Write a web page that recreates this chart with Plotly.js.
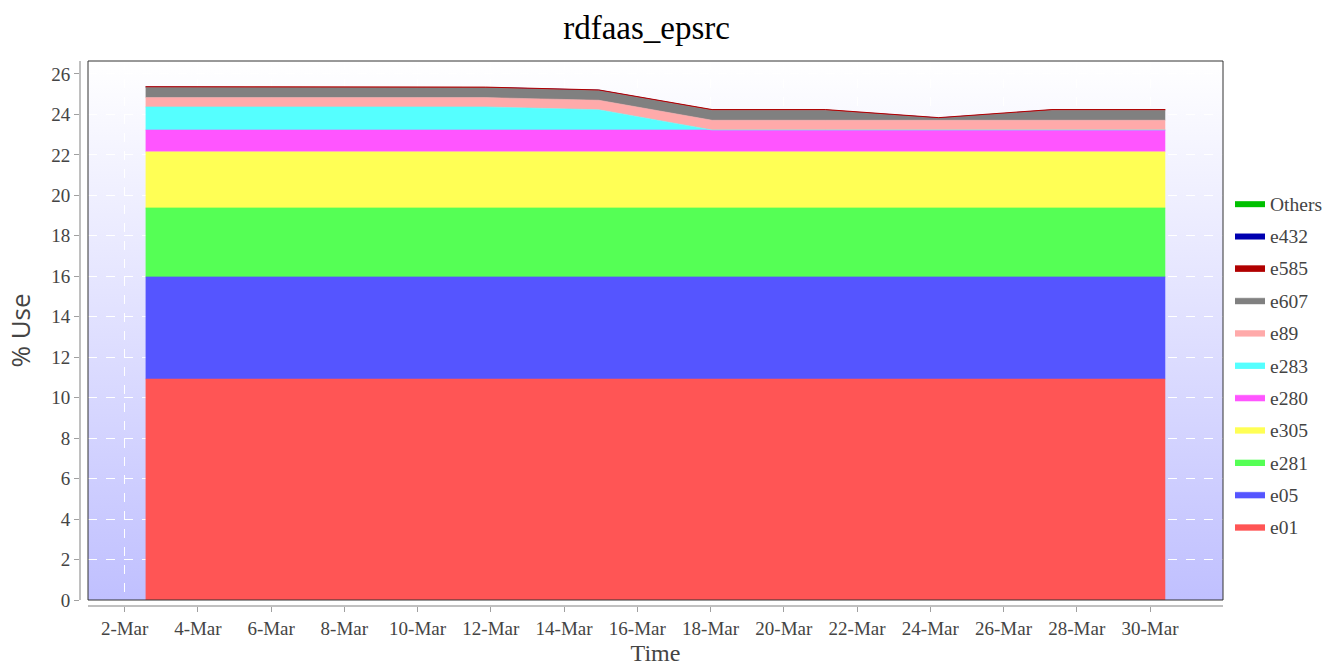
<!DOCTYPE html>
<html>
<head>
<meta charset="utf-8">
<script src="https://cdn.plot.ly/plotly-3.0.1.min.js"></script>
<style>html,body{margin:0;padding:0;background:#fff;}#chart{width:1325px;height:666px;}</style>
</head>
<body>
<div id="chart"></div>
<script>
// ---- data ----
const dates = ['2015-03-02 13:45','2015-03-05 16:00','2015-03-08 18:15','2015-03-11 20:30','2015-03-14 22:45',
               '2015-03-18 01:00','2015-03-21 03:15','2015-03-24 05:30','2015-03-27 07:45','2015-03-30 10:00'];
const seriesNames = ['e01','e05','e281','e305','e280','e283','e89','e607','e585','e432','Others'];
const e01    = [10.92,10.92,10.92,10.92,10.92,10.92,10.92,10.92,10.92,10.92];
const e05    = [5.05,5.05,5.05,5.05,5.05,5.05,5.05,5.05,5.05,5.05];
const e281   = [3.41,3.41,3.41,3.41,3.41,3.41,3.41,3.41,3.41,3.41];
const e305   = [2.77,2.77,2.77,2.77,2.77,2.77,2.77,2.77,2.77,2.77];
const e280   = [1.08,1.08,1.08,1.08,1.08,1.08,1.08,1.08,1.08,1.08];
const e283   = [1.14,1.14,1.14,1.14,1.00,0,0,0,0,0];
const e89    = [0.46,0.46,0.46,0.46,0.47,0.48,0.48,0.47,0.48,0.48];
const e607   = [0.51,0.51,0.51,0.49,0.48,0.50,0.50,0.11,0.50,0.50];
const e585   = [0.03,0.03,0.03,0.03,0.03,0.03,0.03,0.03,0.03,0.03];
const e432   = [0.005,0.005,0.005,0.005,0.005,0.005,0.005,0.005,0.005,0.005];
const others = [0,0,0,0,0,0,0,0,0,0];
const seriesValues = [e01,e05,e281,e305,e280,e283,e89,e607,e585,e432,others];
const seriesColors = ['#ff5555','#5555ff','#55ff55','#ffff55','#ff55ff','#55ffff','#ffaaaa','#808080','#b00000','#0000b0','#00c000'];

// ---- chart ----
const W = 1325, H = 666;
const L = 80, R = 102, T = 61, B = 60;
const pw = W - L - R, ph = H - T - B;

const traces = seriesNames.map((n, i) => ({
  type: 'scatter', mode: 'lines', name: n, x: dates, y: seriesValues[i],
  stackgroup: 'one', fillcolor: seriesColors[i],
  line: {color: seriesColors[i], width: (n === 'e585') ? 1 : (i > 8 ? 0 : 0.6), shape: 'linear'},
  legendgroup: n, legendrank: 100 - i, hoverinfo: 'x+y+name'
}));

const svgBg = '<svg xmlns="http://www.w3.org/2000/svg" width="100" height="100" preserveAspectRatio="none">' +
  '<defs><linearGradient id="g" x1="0" y1="0" x2="0" y2="1"><stop offset="0" stop-color="#ffffff"/>' +
  '<stop offset="1" stop-color="#c0c0ff"/></linearGradient></defs><rect width="100" height="100" fill="url(#g)"/></svg>';
const bgSrc = 'data:image/svg+xml;base64,' + btoa(svgBg);

const serif = 'Liberation Serif, Times New Roman, serif';
const layout = {
  width: W, height: H,
  margin: {l: L, r: R, t: T, b: B, pad: 0, autoexpand: false},
  paper_bgcolor: '#ffffff', plot_bgcolor: 'rgba(0,0,0,0)',
  title: {text: 'rdfaas_epsrc', font: {family: serif, size: 33, color: '#000'},
          x: 0.488, xanchor: 'center', y: 1 - 27/H, yanchor: 'middle', yref: 'container'},
  xaxis: {
    type: 'date', domain: [8/pw, 1], anchor: 'free', position: 0,
    range: ['2015-03-01 00:00', '2015-03-31 23:50'],
    tick0: '2015-03-02', dtick: 2*86400000, tickformat: '%-d-%b',
    showline: true, linecolor: '#c0c0c0', linewidth: 2,
    ticks: 'outside', ticklen: 5, tickcolor: '#a0a0a0',
    showgrid: true, gridcolor: '#ffffff', griddash: 'dash', gridwidth: 1,
    tickfont: {family: serif, size: 19, color: '#444'},
    title: {text: 'Time', font: {family: serif, size: 24, color: '#444'}, standoff: 6},
    zeroline: false
  },
  yaxis: {
    domain: [6/ph, 1], anchor: 'free', position: 0,
    range: [0, 26.64], dtick: 2, tick0: 0,
    showline: true, linecolor: '#c0c0c0', linewidth: 2,
    ticks: 'outside', ticklen: 5, tickcolor: '#a0a0a0',
    showgrid: true, gridcolor: '#ffffff', griddash: 'dash', gridwidth: 1,
    tickfont: {family: serif, size: 19, color: '#444'},
    title: {text: '% Use', font: {family: 'Open Sans, DejaVu Sans, sans-serif', size: 26, color: '#444'}, standoff: 12},
    zeroline: false
  },
  legend: {
    x: (1230 - L)/pw, xanchor: 'left', y: (H - B - 365)/ph, yanchor: 'middle',
    traceorder: 'grouped', tracegroupgap: 4, itemwidth: 30,
    font: {family: serif, size: 19.5, color: '#444'}, bgcolor: 'rgba(0,0,0,0)'
  },
  images: [{source: bgSrc, xref: 'x domain', yref: 'y domain', x: 0, y: 1, sizex: 1, sizey: 1,
            xanchor: 'left', yanchor: 'top', sizing: 'stretch', layer: 'below'}],
  shapes: [{type: 'rect', xref: 'x domain', yref: 'y domain', x0: 0, x1: 1, y0: 0, y1: 1,
            line: {color: '#333', width: 1}, fillcolor: 'rgba(0,0,0,0)', layer: 'above'}],
  showlegend: true
};

Plotly.newPlot('chart', traces, layout, {displayModeBar: false, staticPlot: true});
</script>
</body>
</html>
